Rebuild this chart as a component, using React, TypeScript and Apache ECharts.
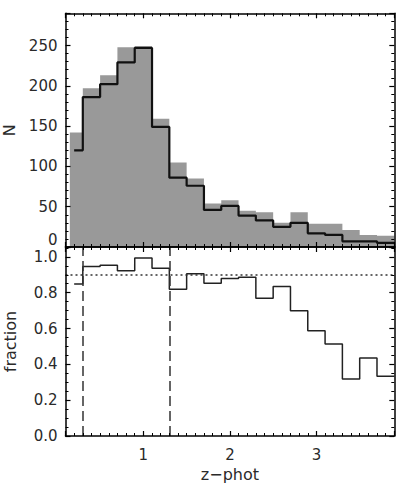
import React, { useEffect, useRef } from "react";
import * as echarts from "echarts";

// bin edges in z-phot (20 edges -> 19 bins)
const binEdges = [0.1, 0.3, 0.5, 0.7, 0.9, 1.1, 1.3, 1.5, 1.7, 1.9, 2.1, 2.3, 2.5, 2.7, 2.9, 3.1, 3.3, 3.5, 3.7, 3.9];
const grayStart = 0.15; // where the filled histogram begins
const lineStart = 0.2; // where the step outlines begin

// all galaxies (gray filled histogram)
const allCounts = [142, 197, 213, 248, 249, 159, 105, 85, 54, 58, 45, 43, 30, 43, 29, 29, 21, 15, 14];
// selected galaxies (black outline)
const selCounts = [120, 186, 202, 229, 247, 149, 86, 76, 46, 51, 39, 33, 25, 30, 17, 15, 7, 7, 5];
// fraction selected / all
const fraction = [0.849, 0.946, 0.953, 0.923, 0.993, 0.937, 0.819, 0.905, 0.853, 0.879, 0.886, 0.769, 0.834, 0.699, 0.587, 0.514, 0.318, 0.436, 0.333];

const fractionLevel = [0.9];
const zLimits = [0.3, 1.3];

const xRange = [0.1, 3.9];
const nRange = [0, 290];
const fRange = [0, 1.055];

function stepData(values: number[], start: number) {
  const pts: [number, number][] = [];
  values.forEach((v, i) => {
    pts.push([i === 0 ? start : binEdges[i], v]);
  });
  pts.push([binEdges[binEdges.length - 1], values[values.length - 1]]);
  return pts;
}

const FONT = "DejaVu Sans";
const TXT = "#2a2a2a";

export default function App() {
  const ref = useRef<HTMLDivElement>(null);
  useEffect(() => {
    if (!ref.current) return;
    const chart = echarts.init(ref.current, undefined, { renderer: "svg" });

    const axisLine = { show: true, onZero: false, lineStyle: { color: "#000", width: 1.5 } };
    const tick = { show: true, inside: true, length: 5, lineStyle: { color: "#000", width: 1.2 } };
    const label = { fontFamily: FONT, fontSize: 15, color: TXT };

    const xAx = (gridIndex: number, position: string, showLabel: boolean, name?: string) => ({
      type: "value",
      gridIndex,
      position,
      min: xRange[0],
      max: xRange[1],
      z: 10,
      axisLine,
      axisTick: tick,
      minorTick: { show: true, splitNumber: 10, length: 3, lineStyle: { color: "#000", width: 1 } },
      splitLine: { show: false },
      axisLabel: {
        show: showLabel,
        ...label,
        margin: 11,
        showMinLabel: false,
        showMaxLabel: false,
      },
      name: name || "",
      nameLocation: "middle",
      nameGap: 30,
      nameTextStyle: { fontFamily: FONT, fontSize: 16, color: TXT },
    });

    const yAx = (
      gridIndex: number,
      position: string,
      range: number[],
      minorSplit: number,
      showLabel: boolean,
      name?: string,
      fmt?: any
    ) => ({
      type: "value",
      gridIndex,
      position,
      min: range[0],
      max: range[1],
      z: 10,
      axisLine,
      axisTick: tick,
      minorTick: { show: true, splitNumber: minorSplit, length: 3, lineStyle: { color: "#000", width: 1 } },
      splitLine: { show: false },
      axisLabel: {
        show: showLabel,
        ...label,
        margin: 8,
        showMaxLabel: false,
        formatter: fmt,
        rich: { z: { fontFamily: FONT, fontSize: 15, color: TXT, padding: [0, 0, 14, 0] } },
      },
      name: name || "",
      nameLocation: "middle",
      nameGap: 47,
      nameTextStyle: { fontFamily: FONT, fontSize: 16, color: TXT },
    });

    chart.setOption({
      animation: false,
      backgroundColor: "#fff",
      grid: [
        { left: 65.5, top: 13.3, width: 328.8, height: 233.7, containLabel: false, outerBoundsMode: "none" },
        { left: 65.5, top: 247, width: 328.8, height: 189, containLabel: false, outerBoundsMode: "none" },
      ],
      xAxis: [
        xAx(0, "bottom", false),
        xAx(0, "top", false),
        xAx(1, "bottom", true, "z\u2212phot"),
        xAx(1, "top", false),
      ],
      yAxis: [
        yAx(0, "left", nRange, 5, true, "N", (v: number) => (v === 0 ? "{z|0}" : String(v))),
        yAx(0, "right", nRange, 5, false),
        yAx(1, "left", fRange, 4, true, "fraction", (v: number) => v.toFixed(1)),
        yAx(1, "right", fRange, 4, false),
      ],
      series: [
        {
          type: "line",
          xAxisIndex: 0,
          yAxisIndex: 0,
          step: "end",
          symbol: "none",
          data: stepData(allCounts, grayStart),
          lineStyle: { width: 0, color: "#999" },
          areaStyle: { color: "#999999", opacity: 1 },
          z: 2,
        },
        {
          type: "line",
          xAxisIndex: 0,
          yAxisIndex: 0,
          step: "end",
          symbol: "none",
          data: stepData(selCounts, lineStart),
          lineStyle: { width: 2.2, color: "#111" },
          z: 3,
        },
        {
          type: "line",
          xAxisIndex: 2,
          yAxisIndex: 2,
          step: "end",
          symbol: "none",
          data: stepData(fraction, lineStart),
          lineStyle: { width: 1.5, color: "#222" },
          z: 3,
          markLine: {
            silent: true,
            symbol: "none",
            label: { show: false },
            data: [
              ...fractionLevel.map((y) => ({ yAxis: y, lineStyle: { type: [2, 3], width: 1.5, color: "#333" } })),
              ...zLimits.map((x) => ({ xAxis: x, lineStyle: { type: [10, 5], width: 1.5, color: "#333" } })),
            ],
          },
        },
      ],
    });
    return () => chart.dispose();
  }, []);

  return (
    <div
      ref={ref}
      style={{ position: "fixed", left: 0, top: 0, width: 407, height: 483, background: "#fff" }}
    />
  );
}
